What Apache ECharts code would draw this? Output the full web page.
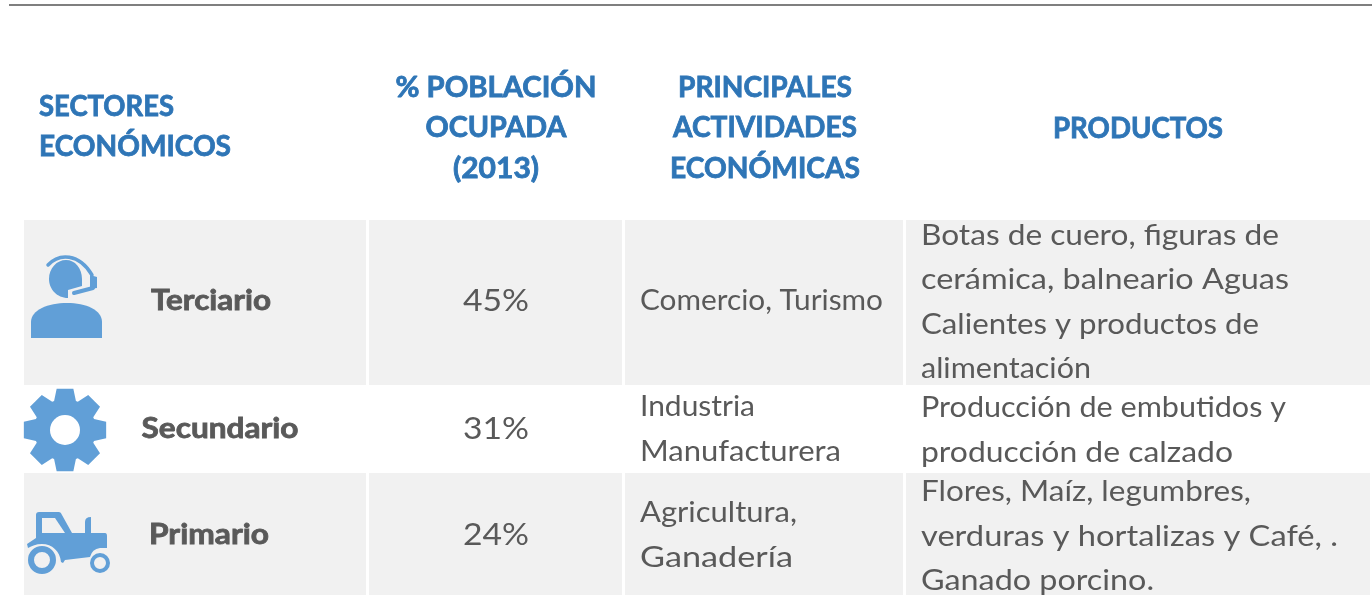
<!DOCTYPE html>
<html>
<head>
<meta charset="utf-8">
<title>Sectores económicos</title>
<style>
  html, body { margin: 0; padding: 0; background: #fff; }
  #chart { width: 1372px; height: 595px; }
</style>
</head>
<body>
<div id="chart"></div>
<script src="https://cdn.jsdelivr.net/npm/echarts@6/dist/echarts.min.js"></script>
<script>
// table content
const headers = [
  ['SECTORES', 'ECONÓMICOS'],
  ['% POBLACIÓN', 'OCUPADA', '(2013)'],
  ['PRINCIPALES', 'ACTIVIDADES', 'ECONÓMICAS'],
  ['PRODUCTOS']
];
const sectors = ['Terciario', 'Secundario', 'Primario'];
const shares = [45, 31, 24];
const activities = [
  ['Comercio, Turismo'],
  ['Industria', 'Manufacturera'],
  ['Agricultura,', 'Ganadería']
];
const products = [
  ['Botas de cuero, figuras de', 'cerámica, balneario Aguas', 'Calientes y productos de', 'alimentación'],
  ['Producción de embutidos y', 'producción de calzado'],
  ['Flores, Maíz, legumbres,', 'verduras y hortalizas y Café, .', 'Ganado porcino.']
];

// layout, in axis units (same as pixels here)
const colEdges = [[24, 366], [369, 622], [625, 903], [906, 1370]];
const rowEdges = [[220, 385], [385, 473], [473, 595]];
const shadedRows = [0, 2];
const rowMid = [301, 429, 535];
const lineGap = 44.5;
const headerGap = 40.5;
const headerPos = [[39, 127], [496, 128], [765, 128], [1138, 128.5]];
const sectorX = [211, 220, 209];
const shareX = 496;
const activityX = 640;
const productX = 921;
const productMid = [302, 430, 536.5];
const iconPos = [[67, 297], [65, 430], [68, 541]];

// line widths wanted, the installed font runs narrower than the original
const lineWidths = {
  'SECTORES': 135, 'ECONÓMICOS': 192, '% POBLACIÓN': 201, 'OCUPADA': 141, '(2013)': 86,
  'PRINCIPALES': 174, 'ACTIVIDADES': 184, 'ECONÓMICAS': 190, 'PRODUCTOS': 170,
  'Terciario': 120, 'Secundario': 157, 'Primario': 120,
  '45%': 66, '31%': 66, '24%': 66,
  'Comercio, Turismo': 243, 'Industria': 115, 'Manufacturera': 201, 'Agricultura,': 157, 'Ganadería': 153,
  'Botas de cuero, figuras de': 358, 'cerámica, balneario Aguas': 368, 'Calientes y productos de': 338,
  'alimentación': 170, 'Producción de embutidos y': 365, 'producción de calzado': 312,
  'Flores, Maíz, legumbres,': 330, 'verduras y hortalizas y Café, .': 417, 'Ganado porcino.': 233
};

const BLUE = '#2e75b6';
const GREY = '#595959';
const ICON = '#619fd7';
const SHADE = '#f1f1f1';
const FONT = 'Lato, "Noto Sans", sans-serif';

// text lines as [x, y, text, kind]
const textRows = [];
headers.forEach(function (lines, c) {
  lines.forEach(function (t, i) {
    textRows.push([headerPos[c][0], headerPos[c][1] + (i - (lines.length - 1) / 2) * headerGap, t, c === 0 ? 'headLeft' : 'head']);
  });
});
sectors.forEach(function (t, r) {
  textRows.push([sectorX[r], rowMid[r], t, 'sector']);
  textRows.push([shareX, rowMid[r], shares[r] + '%', 'share']);
  activities[r].forEach(function (a, i) {
    textRows.push([activityX, rowMid[r] + (i - (activities[r].length - 1) / 2) * lineGap, a, 'body']);
  });
  products[r].forEach(function (p, i) {
    textRows.push([productX, productMid[r] + (i - (products[r].length - 1) / 2) * lineGap, p, 'body']);
  });
});

const textStyles = {
  head: { font: 'bold 28px ' + FONT, fill: BLUE, align: 'center', heavy: 0.8 },
  headLeft: { font: 'bold 28px ' + FONT, fill: BLUE, align: 'left', heavy: 0.8 },
  sector: { font: 'bold 28px ' + FONT, fill: GREY, align: 'center', heavy: 0.8 },
  share: { font: '30px ' + FONT, fill: GREY, align: 'center', heavy: 0 },
  body: { font: '29px ' + FONT, fill: GREY, align: 'left', heavy: 0 }
};

const measure = document.createElement('canvas').getContext('2d');
function widthScale(text, font) {
  measure.font = font;
  return lineWidths[text] / measure.measureText(text).width;
}

// shaded cells
const cellRows = [];
shadedRows.forEach(function (r) {
  colEdges.forEach(function (c) {
    cellRows.push([c[0], rowEdges[r][0], c[1], rowEdges[r][1]]);
  });
});

// icons, local coordinates around the icon position
function gearPath() {
  let d = '';
  for (let i = 0; i < 8; i++) {
    const a = i * Math.PI / 4 - Math.PI / 2;
    const pts = [[-0.36, 31], [-0.2, 42], [0.2, 42], [0.36, 31]];
    pts.forEach(function (p, j) {
      const x = Math.cos(a + p[0]) * p[1];
      const y = Math.sin(a + p[0]) * p[1];
      d += ((i === 0 && j === 0) ? 'M' : 'L') + x.toFixed(2) + ' ' + y.toFixed(2) + ' ';
    });
  }
  return d + 'Z';
}
const icons = [
  [
    { d: 'M-36 41 V25 C-36 13 -19 6 0 6 C19 6 35 13 35 25 V41 Z' },
    { d: 'M-18 -18 C-18 -29 -10 -37 -1 -37 C8 -37 15 -29 15 -18 L15 -11 L1 -7 L1 1 C-10 1 -18 -8 -18 -18 Z' },
    { d: 'M-19 -32 C-8 -44 12 -44 25 -22', line: 3.5 },
    { d: 'M23 -22 L30 -20 V-9 L23 -8 Z' },
    { d: 'M26 -9 L7 -4', line: 4 }
  ],
  [
    { d: gearPath() },
    { circle: [0, 0, 15], fill: '#fff' }
  ],
  [
    { d: 'M-32 -26 Q-32 -29 -29 -29 H-9 Q-7 -29 -6 -26 L4 -8 H17 V-19 Q17 -24 23 -24 V-8 H37 Q39 -8 39 -5 V7 H32 Q24 8 22 16 L-3 19 L-5 22 L-7 21 C-8 10 -16 3 -26 3 C-32 3 -36 5 -40 7 L-41 3 L-32 -3 Z' },
    { d: 'M-26 -23 H-13 L-3 -8 H-26 Z', fill: SHADE },
    { circle: [-26, 19, 11], ring: 6 },
    { circle: [32, 22, 8], ring: 4 }
  ]
];

const chart = echarts.init(document.getElementById('chart'), null, { renderer: 'canvas' });

chart.setOption({
  animation: false,
  backgroundColor: '#fff',
  grid: { left: 0, right: 0, top: 0, bottom: 0 },
  xAxis: { type: 'value', min: 0, max: 1372, show: false },
  yAxis: { type: 'value', min: 0, max: 595, inverse: true, show: false },
  series: [
    {
      // top rule
      type: 'lines',
      coordinateSystem: 'cartesian2d',
      silent: true,
      z: 1,
      lineStyle: { color: '#7f7f7f', width: 2, opacity: 1 },
      data: [{ coords: [[9, 5], [1372, 5]] }]
    },
    {
      // shaded cells
      type: 'custom',
      silent: true,
      z: 2,
      data: cellRows,
      encode: { x: [0, 2], y: [1, 3] },
      renderItem: function (params, api) {
        const p0 = api.coord([api.value(0), api.value(1)]);
        const p1 = api.coord([api.value(2), api.value(3)]);
        return {
          type: 'rect',
          shape: { x: p0[0], y: p0[1], width: p1[0] - p0[0], height: p1[1] - p0[1] },
          style: { fill: SHADE }
        };
      }
    },
    {
      // sector icons
      type: 'custom',
      silent: true,
      z: 3,
      data: iconPos,
      renderItem: function (params, api) {
        const p = api.coord([api.value(0), api.value(1)]);
        const children = icons[params.dataIndex].map(function (part) {
          if (part.circle) {
            const c = part.circle;
            const style = part.ring
              ? { fill: 'none', stroke: ICON, lineWidth: part.ring }
              : { fill: part.fill };
            return { type: 'circle', shape: { cx: c[0], cy: c[1], r: c[2] }, style: style };
          }
          if (part.line) {
            return { type: 'path', shape: { pathData: part.d }, style: { fill: 'none', stroke: ICON, lineWidth: part.line, lineCap: 'round' } };
          }
          return { type: 'path', shape: { pathData: part.d }, style: { fill: part.fill || ICON } };
        });
        return { type: 'group', x: p[0], y: p[1], children: children };
      }
    },
    {
      // every text line of the table
      type: 'custom',
      silent: true,
      z: 4,
      data: textRows,
      dimensions: ['x', 'y', 'text', 'kind'],
      encode: { x: 0, y: 1 },
      renderItem: function (params, api) {
        const row = textRows[params.dataIndex];
        const p = api.coord([row[0], row[1]]);
        const s = textStyles[row[3]];
        const style = { text: row[2], font: s.font, fill: s.fill, align: s.align, verticalAlign: 'middle' };
        if (s.heavy) {
          style.stroke = s.fill;
          style.lineWidth = s.heavy;
        }
        return {
          type: 'text',
          x: p[0],
          y: p[1],
          scaleX: widthScale(row[2], s.font),
          style: style
        };
      }
    }
  ]
});
</script>
</body>
</html>
